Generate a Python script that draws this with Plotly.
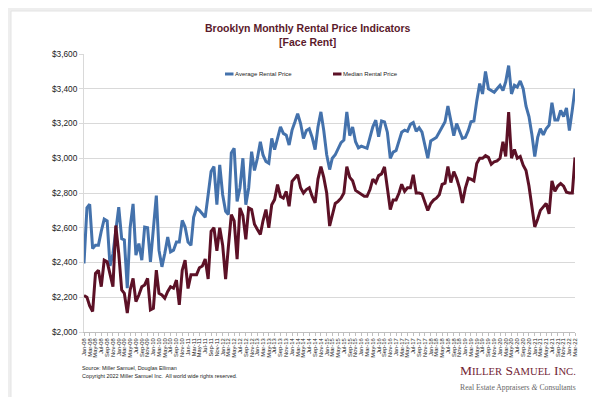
import pandas as pd
import plotly.graph_objects as go

months = pd.date_range("2008-01-01", "2022-03-01", freq="MS")

avg_rent = [
    2394, 2715, 2735, 2480, 2500, 2500, 2580, 2650, 2640, 2380, 2450, 2600,
    2718, 2537, 2530, 2252, 2600, 2737, 2442, 2509, 2413, 2604, 2600, 2404,
    2600, 2785, 2471, 2375, 2452, 2547, 2461, 2471, 2518, 2518, 2642, 2604,
    2518, 2499, 2660, 2714, 2700, 2680, 2660, 2790, 2924, 2952, 2733, 2962,
    2790, 2695, 2676, 3030, 3057, 2752, 2829, 3000, 2733, 2829, 3038, 2930,
    3000, 3095, 3019, 2981, 2971, 3114, 3050, 3114, 3181, 3143, 3133, 3076,
    3162, 3210, 3257, 3200, 3114, 3160, 3170, 3120, 3050, 3180, 3267, 3160,
    3020, 2935, 3000, 3020, 3060, 3090, 3105, 3267, 3130, 3180, 3095, 3060,
    3070, 3062, 3057, 3120, 3181, 3219, 3124, 3215, 3209, 3150, 3000, 3035,
    3045, 3100, 3150, 3162, 3155, 3195, 3205, 3155, 3175, 3150, 3070, 3000,
    3100, 3110, 3120, 3150, 3180, 3210, 3300, 3220, 3130, 3200, 3150, 3114,
    3120, 3160, 3210, 3214, 3330, 3430, 3370, 3500, 3400, 3390, 3380, 3400,
    3420, 3390, 3440, 3533, 3370, 3420, 3410, 3445, 3400, 3300, 3240, 3140,
    3010, 3120, 3170, 3135, 3170, 3190, 3320, 3220, 3220, 3275, 3240, 3290,
    3160, 3280, 3400,
]

median_rent = [
    2210, 2200, 2150, 2118, 2337, 2356, 2261, 2413, 2404, 2337, 2261, 2613,
    2452, 2242, 2223, 2109, 2242, 2309, 2175, 2213, 2261, 2271, 2309, 2128,
    2137, 2356, 2223, 2213, 2194, 2233, 2261, 2252, 2299, 2156, 2356, 2413,
    2250, 2330, 2330, 2330, 2370, 2380, 2420, 2305, 2580, 2600, 2467, 2600,
    2500, 2305, 2490, 2676, 2640, 2419, 2714, 2670, 2533, 2714, 2705, 2620,
    2590, 2562, 2640, 2705, 2600, 2733, 2762, 2848, 2780, 2771, 2809, 2724,
    2867, 2886, 2905, 2830, 2800, 2820, 2830, 2780, 2743, 2880, 2952, 2890,
    2800, 2610, 2680, 2740, 2752, 2770, 2800, 2952, 2890, 2870, 2815, 2805,
    2790, 2781, 2781, 2820, 2880, 2860, 2900, 2910, 2950, 2830, 2705, 2760,
    2760, 2800, 2850, 2810, 2830, 2830, 2905, 2800, 2800, 2795, 2750, 2700,
    2740, 2760, 2770, 2790, 2850, 2857, 2952, 2860, 2923, 2885, 2828, 2742,
    2828, 2885, 2880, 2870, 2970, 3000, 3000, 3015, 3005, 2965, 2980, 2985,
    3000, 3095, 3010, 3265, 3000, 3050, 3000, 3010, 2960, 2930, 2840, 2715,
    2605, 2650, 2700, 2720, 2740, 2680, 2870, 2810, 2840, 2855, 2840, 2805,
    2800, 2800, 3005,
]

series_names = ["Average Rental Price", "Median Rental Price"]

y_ticks = [2000, 2200, 2400, 2600, 2800, 3000, 3200, 3400, 3600]
y_tick_labels = ["$2,000", "$2,200", "$2,400", "$2,600", "$2,800",
                 "$3,000", "$3,200", "$3,400", "$3,600"]

BLUE = "#4472AC"
MAROON = "#5C1126"
SANS = "Liberation Sans, Arial, sans-serif"
SERIF = "Liberation Serif, Times New Roman, serif"

fig = go.Figure()
fig.add_trace(go.Scatter(x=months, y=avg_rent, mode="lines",
                         name=series_names[0],
                         line=dict(color=BLUE, width=3)))
fig.add_trace(go.Scatter(x=months, y=median_rent, mode="lines",
                         name=series_names[1],
                         line=dict(color=MAROON, width=3)))

L, R, T, B = 76, 33, 46, 73
W, H = 600, 397
PW, PH = W - L - R, H - T - B


def px_x(x):
    return (x - L) / PW


def px_y(y):
    return 1 - (y - T) / PH


# white card
fig.add_shape(type="rect", xref="paper", yref="paper",
              x0=px_x(3), x1=px_x(594), y0=px_y(392), y1=px_y(3),
              fillcolor="white", line=dict(color="#e4e4e4", width=1),
              layer="below")

# title
fig.add_annotation(xref="paper", yref="paper", x=px_x(300), y=px_y(27),
                   text="<b>Brooklyn Monthly Rental Price Indicators<br>[Face Rent]</b>",
                   showarrow=False, xanchor="center", yanchor="middle",
                   font=dict(family=SANS, size=10.5, color="#5B1A2B"))

# legend (drawn manually to match the short line keys)
legend_items = [(series_names[0], BLUE, 217, 225.5),
                (series_names[1], MAROON, 325, 333.5)]
for name, col, xs, xt in legend_items:
    fig.add_shape(type="line", xref="paper", yref="paper",
                  x0=px_x(xs), x1=px_x(xt), y0=px_y(66), y1=px_y(66),
                  line=dict(color=col, width=3))
    fig.add_annotation(xref="paper", yref="paper", x=px_x(xt - 1), y=px_y(66),
                       text=name, showarrow=False, xanchor="left",
                       yanchor="middle",
                       font=dict(family=SANS, size=6, color="#222222"))

# source lines
fig.add_annotation(xref="paper", yref="paper", x=px_x(72), y=px_y(360),
                   text="Source: Miller Samuel, Douglas Elliman",
                   showarrow=False, xanchor="left", yanchor="middle",
                   font=dict(family=SANS, size=5.4, color="#222222"))
fig.add_annotation(xref="paper", yref="paper", x=px_x(72), y=px_y(368),
                   text="Copyright 2022 Miller Samuel Inc.  All world wide rights reserved.",
                   showarrow=False, xanchor="left", yanchor="middle",
                   font=dict(family=SANS, size=5.4, color="#222222"))

# logo text
fig.add_annotation(xref="paper", yref="paper", x=px_x(510), y=px_y(362),
                   text="M<span style='font-size:10.6px'>ILLER</span> S<span style='font-size:10.6px'>AMUEL</span> I<span style='font-size:10.6px'>NC.</span>",
                   showarrow=False, xanchor="center", yanchor="middle",
                   font=dict(family=SERIF, size=13.5, color="#722434"))
fig.add_annotation(xref="paper", yref="paper", x=px_x(510), y=px_y(379),
                   text="Real Estate Appraisers <i>&amp;</i> Consultants",
                   showarrow=False, xanchor="center", yanchor="middle",
                   font=dict(family=SERIF, size=7.7, color="#666666"))

fig.update_layout(
    width=W, height=H,
    margin=dict(l=L, r=R, t=T, b=B),
    paper_bgcolor="#eeeeee",
    plot_bgcolor="white",
    showlegend=False,
    xaxis=dict(
        type="date",
        range=["2008-01-01", "2022-03-01"],
        tickformat="%b-%y", dtick="M2", tick0="2008-01-01",
        tickangle=-90,
        tickfont=dict(family=SANS, size=5.8, color="#222222"),
        showgrid=False,
        showline=True, linecolor="#bfbfbf", linewidth=1,
        ticks="outside", ticklen=3, tickcolor="#bfbfbf",
        zeroline=False,
    ),
    yaxis=dict(
        range=[2000, 3600],
        tickvals=y_ticks, ticktext=y_tick_labels,
        tickfont=dict(family=SANS, size=8.3, color="#222222"),
        showgrid=True, gridcolor="#d9d9d9", gridwidth=1,
        showline=True, linecolor="#d9d9d9", linewidth=1,
        ticks="outside", ticklen=4, tickcolor="#d9d9d9",
        zeroline=False,
    ),
)

fig.write_html("out.html")
